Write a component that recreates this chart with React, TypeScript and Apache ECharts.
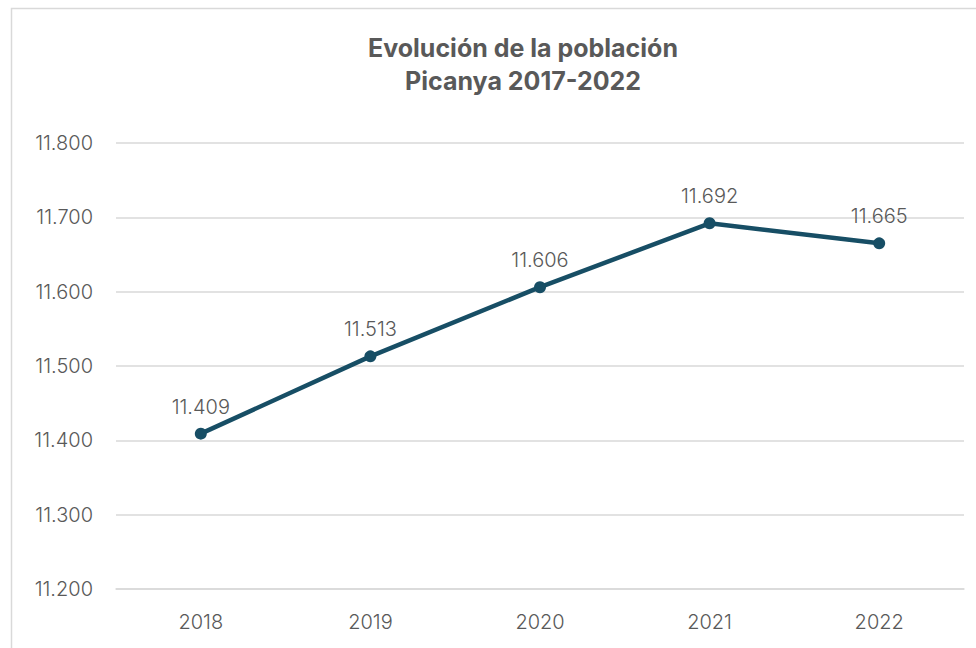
import React, { useEffect, useRef } from "react";
import * as echarts from "echarts";

const titleLines = ["Evolución de la población", "Picanya 2017-2022"];
const years = ["2018", "2019", "2020", "2021", "2022"];
const population = [11409, 11513, 11606, 11692, 11665];
const yMin = 11200;
const yMax = 11800;
const yStep = 100;

const fmt = (v: number) => {
  const s = String(Math.round(v));
  return s.replace(/\B(?=(\d{3})+(?!\d))/g, ".");
};

export default function App() {
  const ref = useRef<HTMLDivElement>(null);
  useEffect(() => {
    if (!ref.current) return;
    const chart = echarts.init(ref.current, undefined, { renderer: "svg" });
    const font = "Inter, 'Open Sans', sans-serif";
    chart.setOption({
      animation: false,
      backgroundColor: "#ffffff",
      textStyle: { fontFamily: font },
      title: {
        text: titleLines.join("\n"),
        left: 523,
        top: 31,
        padding: 0,
        textAlign: "center",
        textStyle: {
          fontFamily: font,
          fontSize: 25,
          fontWeight: "bold",
          color: "#595959",
          lineHeight: 33,
        },
      },
      graphic: [
        {
          type: "rect",
          shape: { x: 11.5, y: 8.5, width: 1000, height: 700 },
          style: { fill: "none", stroke: "#d9d9d9", lineWidth: 1.5 },
          silent: true,
        },
      ],
      grid: { left: 116, right: 12, top: 143, bottom: 59, containLabel: false },
      xAxis: {
        type: "category",
        data: years,
        boundaryGap: true,
        axisLine: { show: true, lineStyle: { color: "#d9d9d9", width: 1.5 } },
        axisTick: { show: false },
        axisLabel: {
          color: "#595959",
          fontSize: 20,
          fontWeight: 300,
          margin: 23,
          fontFamily: font,
        },
      },
      yAxis: {
        type: "value",
        min: yMin,
        max: yMax,
        interval: yStep,
        axisLine: { show: false },
        axisTick: { show: false },
        splitLine: { lineStyle: { color: "#d9d9d9", width: 1.5 } },
        axisLabel: {
          color: "#595959",
          fontSize: 20,
          fontWeight: 300,
          margin: 23,
          fontFamily: font,
          formatter: (v: number) => fmt(v),
        },
      },
      series: [
        {
          type: "line",
          data: population,
          lineStyle: { color: "#174e65", width: 4.5 },
          itemStyle: { color: "#174e65" },
          symbol: "circle",
          symbolSize: 12,
          label: {
            show: true,
            position: "top",
            distance: 11,
            color: "#595959",
            fontSize: 20,
            fontWeight: 300,
            fontFamily: font,
            formatter: (p: any) => fmt(p.value),
          },
        },
      ],
    });
    return () => chart.dispose();
  }, []);
  return (
    <div
      ref={ref}
      style={{ position: "absolute", left: 0, top: 0, width: 976, height: 648 }}
    />
  );
}
